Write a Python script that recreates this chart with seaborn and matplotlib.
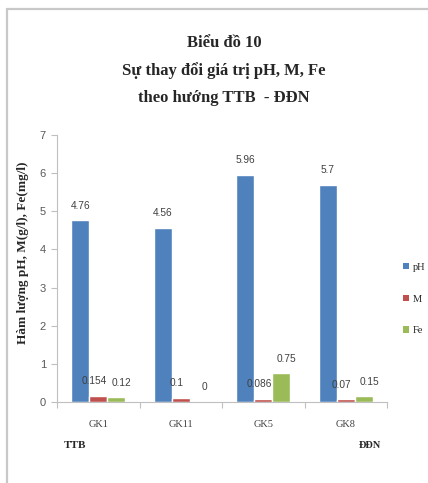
import matplotlib
matplotlib.use("Agg")
import matplotlib.pyplot as plt
from matplotlib.lines import Line2D
from matplotlib.patches import Patch
import seaborn as sns
import pandas as pd

# Sampling wells along the TTB -> DDN direction
wells = ["GK1", "GK11", "GK5", "GK8"]
ph_values = [4.76, 4.56, 5.96, 5.7]
m_values = [0.154, 0.1, 0.086, 0.07]
fe_values = [0.12, 0.0, 0.75, 0.15]
series_names = ["pH", "M", "Fe"]
y_ticks = [0, 1, 2, 3, 4, 5, 6, 7]

colors = {"pH": "#4F81BD", "M": "#C0504D", "Fe": "#9BBB59"}
SERIF = ["Liberation Serif", "DejaVu Serif"]

df = pd.DataFrame({
    "well": wells * 3,
    "series": ["pH"] * 4 + ["M"] * 4 + ["Fe"] * 4,
    "value": ph_values + m_values + fe_values,
})

sns.set_theme(style="white")
plt.rcParams["font.family"] = ["Liberation Sans", "DejaVu Sans"]

W, H = 428, 483
fig = plt.figure(figsize=(W / 100, H / 100), dpi=100)
ax = fig.add_axes([57 / W, 1 - 402 / H, (387 - 57) / W, (402 - 135) / H])

sns.barplot(data=df, x="well", y="value", hue="series", order=wells,
            hue_order=series_names, palette=colors, width=0.65,
            saturation=1, legend=False, ax=ax)

# Value labels above each bar (small sideways offsets keep neighbours apart)
label_map = {"pH": ph_values, "M": m_values, "Fe": fe_values}
x_shift = {"pH": 0, "M": -3, "Fe": 4}
for cont, name in zip(ax.containers, series_names):
    for patch, v in zip(cont.patches, label_map[name]):
        xc = patch.get_x() + patch.get_width() / 2
        ax.annotate(f"{v:g}", (xc, patch.get_height()),
                    xytext=(x_shift[name], 7), textcoords="offset points",
                    ha="center", va="bottom", fontsize=7.3, color="#404040")

ax.set_ylim(0, 7)
ax.set_yticks(y_ticks)
ax.set_xlim(-0.5, 3.5)
ax.set_xlabel("")
ax.set_ylabel("Hàm lượng pH, M(g/l), Fe(mg/l)", fontsize=9.5, fontweight="bold",
              family=SERIF)
ax.yaxis.set_label_coords(-0.085, 0.56)

for side in ["top", "right"]:
    ax.spines[side].set_visible(False)
for side in ["left", "bottom"]:
    ax.spines[side].set_color("#BFBFBF")
    ax.spines[side].set_linewidth(0.8)

ax.tick_params(axis="y", which="major", length=4, width=0.8, color="#BFBFBF",
               labelsize=8, labelcolor="#595959", left=True, pad=4)
ax.set_xticks([0, 1, 2, 3])
ax.set_xticklabels(wells, family=SERIF)
ax.set_xticks([-0.5, 0.5, 1.5, 2.5, 3.5], minor=True)
ax.tick_params(axis="x", which="major", length=0, labelsize=7.5,
               labelcolor="#404040", pad=13)
ax.tick_params(axis="x", which="minor", length=4, width=0.8, color="#BFBFBF",
               bottom=True)

# Direction markers under the first and last wells
fig.text(75 / W, 1 - 446 / H, "TTB", ha="center", va="center", fontsize=8,
         fontweight="bold", family=SERIF)
fig.text(370 / W, 1 - 446 / H, "ĐĐN", ha="center", va="center", fontsize=7.5,
         fontweight="bold", family=SERIF)

# Title block
title_lines = ["Biểu đồ 10", "Sự thay đổi giá trị pH, M, Fe", "theo hướng TTB  - ĐĐN"]
for i, line in enumerate(title_lines):
    fig.text(224 / W, 1 - (43 + 27.5 * i) / H, line, ha="center", va="center",
             fontsize=12, fontweight="bold", family=SERIF)

# Legend on the right
handles = [Patch(facecolor=colors[n], edgecolor="none") for n in series_names]
fig.legend(handles, series_names, loc="center left",
           bbox_to_anchor=(398 / W, 1 - 299 / H), frameon=False,
           prop={"family": SERIF, "size": 7.5},
           handlelength=0.6, handleheight=0.6, handletextpad=0.3,
           labelspacing=2.2, borderpad=0)

# Frame edges at top and left
fig.add_artist(Line2D([7 / W, 7 / W], [0, 1 - 9 / H], transform=fig.transFigure,
                      color="#C8C8C8", linewidth=1.6))
fig.add_artist(Line2D([7 / W, 1], [1 - 9 / H, 1 - 9 / H], transform=fig.transFigure,
                      color="#C8C8C8", linewidth=1.6))

fig.savefig("out.png", dpi=100)
